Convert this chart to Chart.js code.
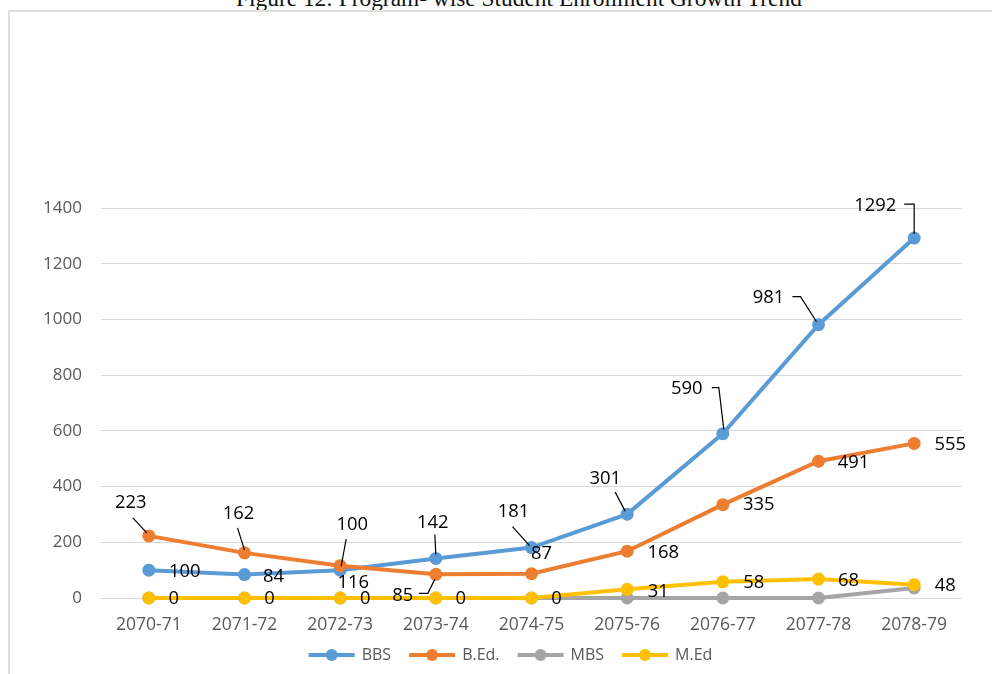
<!DOCTYPE html>
<html>
<head>
<meta charset="utf-8">
<script src="https://cdn.jsdelivr.net/npm/chart.js@4/dist/chart.umd.min.js"></script>
<style>
html,body{margin:0;padding:0;background:#fff;width:992px;height:674px;overflow:hidden;}
#title{position:absolute;left:236px;top:-13px;white-space:nowrap;font-family:"Liberation Serif","Times New Roman",serif;font-size:23.4px;line-height:23.4px;color:#111;}
#frame{position:absolute;left:8px;top:10px;width:1100px;height:800px;border-top:2px solid #e0e0e0;border-left:2px solid #e0e0e0;}
#wrap{position:absolute;left:0;top:0;width:992px;height:674px;}
</style>
</head>
<body>
<div id="title">Figure 12: Program- wise Student Enrollment Growth Trend</div>
<div id="frame"></div>
<div id="wrap"><canvas id="c" width="992" height="674"></canvas></div>
<script>
// ---- data ----
const categories = ['2070-71','2071-72','2072-73','2073-74','2074-75','2075-76','2076-77','2077-78','2078-79'];
const seriesNames = ['BBS','B.Ed.','MBS','M.Ed'];
const bbs = [100, 84, 100, 142, 181, 301, 590, 981, 1292];
const bed = [223, 162, 116, 85, 87, 168, 335, 491, 555];
const mbs = [0, 0, 0, 0, 0, 0, 0, 0, 36];
const med = [0, 0, 0, 0, 0, 31, 58, 68, 48];
const yTicks = [0, 200, 400, 600, 800, 1000, 1200, 1400];

// ---- styles ----
const colors = ['#5B9BD5', '#ED7D31', '#A5A5A5', '#FFC000'];
const FONT = '"Open Sans", sans-serif';

// label placement offsets (relative to the point), with optional leader polylines
const labelPlacement = {
  0: [
    {dx:36, dy:2},
    {dx:29, dy:2},
    {dx:12, dy:-45, lead:[[6,-31],[1,-4]]},
    {dx:-3, dy:-36, lead:[[-1,-24],[0,-4]]},
    {dx:-18, dy:-36, lead:[[-19,-21],[-2,-2]]},
    {dx:-22, dy:-35, lead:[[-12,-22],[-2,-3]]},
    {dx:-36, dy:-45, lead:[[-11,-46],[-4,-46],[1,-4]]},
    {dx:-50, dy:-27, lead:[[-26,-28],[-18,-28],[-2,-3]]},
    {dx:-39, dy:-32, lead:[[-10,-34],[0,-34],[0,-4]]}
  ],
  1: [
    {dx:-18, dy:-33, lead:[[-16,-18],[-2,-3]]},
    {dx:-6, dy:-39, lead:[[-7,-25],[0,-3]]},
    {dx:13, dy:17},
    {dx:-33, dy:21, lead:[[-17,19],[-8,19],[-1,5]]},
    {dx:10, dy:-20},
    {dx:36, dy:2},
    {dx:36, dy:0},
    {dx:35, dy:2},
    {dx:36, dy:1}
  ],
  3: [
    {dx:25, dy:1},{dx:25, dy:1},{dx:25, dy:1},{dx:25, dy:1},{dx:25, dy:1},
    {dx:31, dy:2},{dx:31, dy:1},{dx:30, dy:2},{dx:31, dy:1}
  ]
};

const dataLabelPlugin = {
  id: 'dataLabelsCustom',
  afterDatasetsDraw(chart) {
    const ctx = chart.ctx;
    ctx.save();
    chart.data.datasets.forEach((ds, di) => {
      const place = labelPlacement[di];
      if (!place) return;
      const meta = chart.getDatasetMeta(di);
      meta.data.forEach((pt, i) => {
        const p = place[i];
        if (!p) return;
        const x = pt.x, y = pt.y;
        if (p.lead) {
          ctx.beginPath();
          ctx.strokeStyle = '#000';
          ctx.lineWidth = 1.2;
          p.lead.forEach((q, k) => {
            if (k === 0) ctx.moveTo(x + q[0], y + q[1]); else ctx.lineTo(x + q[0], y + q[1]);
          });
          ctx.stroke();
        }
        ctx.fillStyle = '#000';
        ctx.font = '18.4px ' + FONT;
        ctx.textAlign = 'center';
        ctx.textBaseline = 'middle';
        ctx.fillText(String(ds.data[i]), x + p.dx, y + p.dy);
      });
    });
    ctx.restore();
  }
};

// nudge the legend box to where the reference places it
const legendShift = { dx: 20, dy: -10 };
const legendNudgePlugin = {
  id: 'legendNudge',
  afterLayout(chart) {
    const lg = chart.legend;
    if (!lg) return;
    lg.left += legendShift.dx; lg.right += legendShift.dx;
    lg.top += legendShift.dy; lg.bottom += legendShift.dy;
  }
};

function legendIcon(color) {
  const c = document.createElement('canvas');
  c.width = 48; c.height = 14;
  const g = c.getContext('2d');
  g.strokeStyle = color; g.lineWidth = 4;
  g.beginPath(); g.moveTo(1, 7); g.lineTo(47, 7); g.stroke();
  g.fillStyle = color;
  g.beginPath(); g.arc(24, 7, 6, 0, Math.PI * 2); g.fill();
  return c;
}
const icons = colors.map(legendIcon);

const seriesValues = [bbs, bed, mbs, med];
const datasets = seriesValues.map((vals, i) => ({
  label: seriesNames[i],
  data: vals,
  borderColor: colors[i],
  backgroundColor: colors[i],
  borderWidth: 4,
  pointRadius: 6.5,
  pointHoverRadius: 6.5,
  pointBorderWidth: 0,
  pointBackgroundColor: colors[i],
  tension: 0,
  order: 4 - i,
  clip: false
}));

new Chart(document.getElementById('c'), {
  type: 'line',
  data: { labels: categories, datasets: datasets },
  options: {
    responsive: false,
    animation: false,
    layout: { padding: { left: 20, right: 30, top: 208, bottom: 0 } },
    scales: {
      x: {
        grid: { display: false },
        border: { display: false },
        offset: true,
        ticks: { color: '#595959', font: { family: FONT, size: 17.5 }, padding: 9, maxRotation: 0 },
        afterFit(scale) { scale.height = 40; }
      },
      y: {
        min: yTicks[0],
        max: yTicks[yTicks.length - 1],
        grid: { color: '#d9d9d9', lineWidth: 1, drawTicks: false },
        border: { display: false },
        ticks: {
          stepSize: yTicks[1] - yTicks[0],
          color: '#595959',
          font: { family: FONT, size: 17 },
          padding: 19,
          callback: (v) => String(v)
        },
        afterFit(scale) { scale.width = 81; }
      }
    },
    plugins: {
      tooltip: { enabled: false },
      title: { display: false },
      legend: {
        position: 'bottom',
        maxHeight: 36,
        labels: {
          usePointStyle: true,
          pointStyleWidth: 44,
          padding: 19,
          color: '#595959',
          font: { family: FONT, size: 16 },
          generateLabels(chart) {
            return chart.data.datasets.map((ds, i) => ({
              text: ds.label,
              fillStyle: ds.borderColor,
              strokeStyle: ds.borderColor,
              lineWidth: 0,
              pointStyle: icons[i],
              hidden: false,
              datasetIndex: i,
              fontColor: '#595959'
            }));
          }
        }
      }
    }
  },
  plugins: [dataLabelPlugin, legendNudgePlugin]
});
</script>
</body>
</html>
